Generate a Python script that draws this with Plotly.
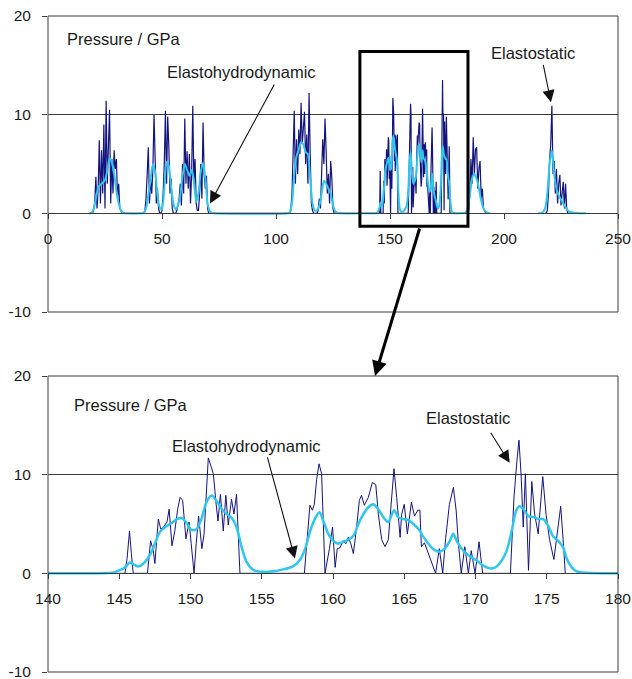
import plotly.graph_objects as go

# ---------------- DATA ----------------
# Overview panel (0-250): navy raw pressure, by contact region
r1_x = [18, 18.5, 19, 19.5, 20, 20.5, 21, 21.5, 22, 22.5, 23, 23.5, 24, 24.5, 25, 25.5,
        26, 26.5, 27, 27.5, 28, 28.5, 29, 29.5, 30, 30.5, 31, 31.5, 32, 32.5, 33]
r1_p = [0, 0, 0, 0, 0.3, 1.2, 3.7, 0.5, 2.5, 7.4, 1.0, 6.4, 2.0, 9.0, 0.5, 11.4,
        3.0, 8.5, 10.5, 1.0, 5.5, 2.0, 6.4, 4.5, 5.5, 1.5, 3.0, 0.5, 0.3, 0, 0]

r2_x = [42, 42.5, 43, 43.5, 44, 44.5, 45, 45.5, 46, 46.5, 47, 47.5, 48, 48.5, 49, 49.5,
        50, 50.5, 51, 51.5, 52, 52.5, 53, 53.5, 54, 54.5, 55, 55.5, 56, 56.5, 57, 57.5,
        58, 58.5, 59, 59.5, 60, 60.5, 61, 61.5, 62, 62.5, 63, 63.5, 64, 64.5, 65, 65.5,
        66, 66.5, 67, 67.5, 68, 68.5, 69, 69.5, 70, 70.5, 71]
r2_p = [0, 0.3, 1.5, 4.0, 6.7, 1.0, 3.5, 2.0, 4.5, 10.0, 6.0, 1.0, 2.5, 0.5, 0, 0,
        0.3, 2.0, 5.0, 10.4, 3.0, 9.8, 6.7, 2.0, 3.5, 0.5, 0, 0, 0, 0.3, 0.8, 1.5,
        3.0, 0.8, 5.0, 2.0, 9.6, 3.0, 6.3, 2.5, 6.0, 1.0, 4.0, 10.9, 3.0, 5.5, 1.0, 0.3,
        0.3, 2.0, 5.0, 1.5, 9.2, 4.0, 2.5, 3.8, 0.5, 0, 0]

r3_x = [106, 106.5, 107, 107.5, 108, 108.5, 109, 109.5, 110, 110.5, 111, 111.5, 112,
        112.5, 113, 113.5, 114, 114.5, 115, 115.5, 116, 116.5, 117, 117.5, 118, 118.5,
        119, 119.5, 120, 120.5, 121, 121.5, 122, 122.5, 123, 123.5, 124, 124.5, 125,
        125.5, 126]
r3_p = [0, 0.3, 2.0, 6.0, 10.4, 3.0, 7.5, 4.0, 8.5, 6.0, 11.2, 7.0, 9.0,
        10.3, 5.0, 8.0, 3.0, 12.2, 6.0, 1.0, 0.3, 0, 0, 0, 0, 0.3,
        1.5, 0.5, 4.0, 7.5, 5.0, 9.6, 6.2, 2.0, 4.0, 1.0, 5.3, 3.5, 0.5,
        0, 0]

r5_x = [184, 184.5, 185, 185.5, 186, 186.5, 187, 187.5, 188, 188.5, 189, 189.5, 190,
        190.5, 191, 191.5, 192, 192.5, 193]
r5_p = [0, 0.3, 2.0, 5.5, 3.0, 7.7, 4.0, 6.5, 6.7, 2.5, 4.5, 5.3, 1.5,
        2.5, 0.5, 0.2, 0, 0, 0]

r6_x = [218, 218.5, 219, 219.5, 220, 220.5, 221, 221.5, 222, 222.5, 223, 223.5, 224,
        224.5, 225, 225.5, 226, 226.5, 227, 227.5, 228, 228.5, 229]
r6_p = [0, 0, 0.3, 2.0, 5.5, 7.0, 10.9, 4.0, 5.3, 2.0, 4.5, 1.0, 3.0,
        3.9, 0.8, 2.0, 3.2, 0.5, 3.0, 0.5, 0, 0, 0]

# Overview panel: cyan smoothed pressure, by contact region
c1_x = [18, 19, 20, 21, 22, 23, 24, 25, 26, 27, 28, 29, 30, 31, 32, 33, 34]
c1_p = [0, 0.05, 0.4, 1.5, 2.6, 2.9, 3.1, 3.4, 4.3, 5.6, 5.2, 4.0, 2.3, 1.0, 0.3, 0.05, 0]

c2_x = [41, 42, 43, 44, 45, 46, 47, 48, 49, 50, 51, 52, 53, 54, 55, 56, 57, 58, 59, 60,
        61, 62, 63, 64, 65, 66, 67, 68, 69, 70, 71, 72, 73]
c2_p = [0, 0.05, 0.5, 1.8, 3.5, 5.0, 4.2, 1.8, 0.6, 0.4, 2.5, 5.2, 4.8, 2.6, 1.0, 0.4,
        0.8, 1.8, 3.8, 5.0, 4.4, 3.8, 4.4, 3.2, 1.2, 2.0, 4.2, 5.1, 3.6, 1.0, 0.2, 0.05, 0]

c3_x = [105, 106, 107, 108, 109, 110, 111, 112, 113, 114, 115, 116, 117, 118, 119, 120,
        121, 122, 123, 124, 125, 126, 127, 128]
c3_p = [0, 0.1, 1.0, 4.0, 5.8, 6.5, 7.2, 7.0, 6.2, 6.0, 3.5, 1.0, 0.3, 0.3, 0.8, 2.0,
        3.3, 3.0, 2.5, 2.0, 0.8, 0.2, 0.05, 0]

c5_x = [181, 182, 183, 184, 185, 186, 187, 188, 189, 190, 191, 192, 193, 194]
c5_p = [0.02, 0.03, 0.08, 0.4, 1.8, 3.5, 4.0, 3.5, 2.5, 1.3, 0.5, 0.15, 0.05, 0]

c6_x = [215, 216, 217, 218, 219, 220, 221, 222, 223, 224, 225, 226, 227, 228, 229, 230,
        231, 232, 233, 234, 235, 236]
c6_p = [0, 0.02, 0.1, 0.5, 2.0, 5.0, 6.4, 4.0, 2.5, 1.8, 1.4, 1.0, 0.6, 0.3, 0.15, 0.08,
        0.05, 0.03, 0.02, 0.01, 0, 0]

# Detail region (140-180): navy raw pressure
zoom_navy_x = [143.0, 145.4, 145.55, 145.72, 145.85, 145.98, 146.98, 147.2, 147.39, 147.5,
               147.74, 147.91, 148.05, 148.2, 148.35, 148.5, 148.7, 148.9, 149.1, 149.27,
               149.45, 149.68, 149.9, 150.05, 150.25, 150.4, 150.57, 150.8, 150.95, 151.05,
               151.25, 151.45, 151.6, 151.8, 151.93, 152.1, 152.3, 152.48, 152.65, 152.88,
               153.05, 153.23, 153.47, 157.99, 158.2, 158.38, 158.55, 158.69, 158.85, 159.02,
               159.2, 159.44, 159.75, 159.97, 160.15, 160.3, 160.5, 160.7, 160.9, 161.07,
               161.25, 161.43, 161.66, 161.85, 162.0, 162.2, 162.48, 162.76, 163.0, 163.18,
               163.42, 163.65, 163.88, 164.12, 164.28, 164.47, 164.71, 164.82, 165.0, 165.22,
               165.5, 165.72, 165.95, 166.1, 166.2, 166.42, 166.7, 167.0, 167.2, 167.46,
               167.7, 167.9, 168.17, 168.45, 168.64, 168.8, 169.0, 169.25, 169.5, 169.7,
               169.97, 170.25, 170.5, 172.45, 172.7, 172.9, 173.05, 173.2, 173.35, 173.5,
               173.72, 173.95, 174.15, 174.4, 174.72, 174.95, 175.2, 175.5, 175.75, 175.98,
               176.15, 176.3]
zoom_navy_p = [0, 0, 1.5, 4.3, 2.0, 0, 0, 3.3, 2.3, 1.0,
               5.5, 4.5, 4.6, 4.9, 5.2, 6.5, 2.8, 4.3, 6.5, 7.7,
               7.4, 3.5, 5.2, 3.0, 0, 3.0, 5.8, 2.5, 4.0, 6.5,
               11.7, 10.8, 10.1, 7.0, 5.3, 8.0, 4.3, 7.9, 4.9, 7.5,
               6.0, 8.0, 0, 0, 3.5, 6.9, 6.4, 7.0, 9.5, 11.1,
               10.1, 0, 2.5, 4.7, 0.6, 2.5, 2.6, 3.3, 3.0, 3.65,
               3.0, 2.0, 4.7, 7.4, 7.9, 6.9, 7.7, 9.2, 9.0, 6.0,
               3.4, 2.7, 3.4, 7.7, 10.6, 7.7, 3.65, 6.0, 7.0, 4.0,
               7.2, 5.8, 6.4, 6.4, 2.7, 3.1, 2.0, 0.7, 0, 2.5,
               0, 3.5, 7.0, 8.7, 6.4, 3.0, 0, 2.7, 0, 2.3,
               0, 3.2, 0, 0, 7.7, 11.3, 13.5, 10.0, 4.7, 10.1,
               0.3, 9.3, 6.0, 4.0, 9.8, 6.0, 3.4, 1.4, 4.3, 6.8,
               3.4, 0]

# Detail region (140-180): cyan smoothed pressure
zoom_cyan_x = [140, 143, 144, 144.6, 145.0, 145.4, 145.76, 146.0, 146.34, 146.7, 147.2,
               147.5, 147.86, 148.33, 148.68, 149.04, 149.4, 149.73, 150.08, 150.43, 150.79,
               151.14, 151.5, 151.84, 152.2, 152.55, 152.9, 153.25, 153.6, 153.95, 154.4,
               155.1, 155.8, 156.5, 157.2, 157.7, 158.05, 158.4, 158.75, 159.05, 159.3,
               159.67, 160.02, 160.37, 160.73, 161.07, 161.43, 161.78, 162.13, 162.48, 162.83,
               163.18, 163.53, 163.88, 164.28, 164.58, 164.94, 165.3, 165.64, 166.0, 166.34,
               166.7, 167.0, 167.46, 167.85, 168.2, 168.44, 168.68, 169.03, 169.38, 169.73,
               170.08, 170.43, 170.78, 171.14, 171.49, 171.84, 172.19, 172.54, 172.84, 173.08,
               173.36, 173.7, 174.06, 174.41, 174.76, 175.1, 175.46, 175.8, 176.16, 176.4,
               176.75, 177.1, 177.8, 180]
zoom_cyan_p = [0, 0, 0.03, 0.1, 0.3, 0.6, 1.1, 0.9, 0.7, 1.0, 2.0,
               3.0, 4.2, 4.8, 5.1, 5.5, 5.6, 5.1, 4.4, 4.5, 5.6,
               7.3, 7.9, 7.3, 6.5, 6.0, 5.6, 4.6, 2.6, 1.1, 0.35,
               0.15, 0.2, 0.4, 0.7, 1.4, 2.5, 4.3, 5.6, 6.2, 5.4,
               4.0, 3.3, 3.0, 3.2, 3.4, 3.8, 5.0, 6.0, 6.7, 7.0,
               6.5, 5.7, 5.2, 6.4, 5.7, 5.5, 5.4, 5.0, 4.5, 3.7,
               3.0, 2.5, 2.2, 2.5, 3.3, 4.0, 3.3, 2.5, 2.0, 1.6,
               1.3, 0.9, 0.6, 0.5, 0.7, 1.3, 2.3, 4.3, 6.3, 6.8,
               6.5, 5.8, 5.7, 5.5, 5.5, 4.8, 3.7, 3.3, 2.6, 1.5,
               0.6, 0.2, 0.05, 0]

# Axis ticks
top_xticks = [0, 50, 100, 150, 200, 250]
bottom_xticks = [140, 145, 150, 155, 160, 165, 170, 175, 180]
y_ticks = [-10, 0, 10, 20]
y_tick_text = ["-10", "0", "10", "20"]

# Labels
unit_label = "Pressure / GPa"
ehl_label = "Elastohydrodynamic"
es_label = "Elastostatic"

# ---------------- FIGURE ----------------
NAVY = "#14147e"
CYAN = "#2cc6ef"
AX = "#3c3c3c"
TXT = "#1a1a1a"
FONT = "Liberation Sans, Arial, sans-serif"

top_navy_x = r1_x + r2_x + r3_x + zoom_navy_x + r5_x + [None] + r6_x
top_navy_p = r1_p + r2_p + r3_p + zoom_navy_p + r5_p + [None] + r6_p
top_cyan_x = c1_x + c2_x + c3_x + zoom_cyan_x + c5_x + [None] + c6_x
top_cyan_p = c1_p + c2_p + c3_p + zoom_cyan_p + c5_p + [None] + c6_p

fig = go.Figure()
fig.add_trace(go.Scatter(x=top_navy_x, y=top_navy_p, xaxis="x", yaxis="y", mode="lines",
                         line=dict(color=NAVY, width=1.2), connectgaps=False, hoverinfo="skip"))
fig.add_trace(go.Scatter(x=top_cyan_x, y=top_cyan_p, xaxis="x", yaxis="y", mode="lines",
                         line=dict(color=CYAN, width=2, shape="spline", smoothing=0.6),
                         connectgaps=False, hoverinfo="skip"))
fig.add_trace(go.Scatter(x=zoom_navy_x, y=zoom_navy_p, xaxis="x2", yaxis="y2", mode="lines",
                         line=dict(color=NAVY, width=1), hoverinfo="skip"))
fig.add_trace(go.Scatter(x=zoom_cyan_x, y=zoom_cyan_p, xaxis="x2", yaxis="y2", mode="lines",
                         line=dict(color=CYAN, width=2.5, shape="spline", smoothing=0.8),
                         hoverinfo="skip"))

tickfont = dict(family=FONT, size=15.5, color=TXT)
top_dom = [360 / 656, 1.0]
bot_dom = [0.0, 296 / 656]


def xax(rng, ticks, pos):
    return dict(domain=[0, 1], range=rng, tickmode="array", tickvals=ticks, anchor="free",
                position=pos, showgrid=False, zeroline=False, showline=True, linecolor=AX,
                linewidth=1, ticks="outside", ticklen=5, tickcolor=AX, tickfont=tickfont,
                ticklabelstandoff=6, ticklabeloverflow="allow", automargin=False,
                fixedrange=True)


def yax(dom, anchor):
    return dict(domain=dom, range=[-10, 20], tickmode="array", tickvals=y_ticks,
                ticktext=y_tick_text,
                anchor=anchor, showgrid=True, gridcolor=AX, gridwidth=1, zeroline=False,
                showline=False, ticks="outside", ticklen=5, tickcolor=AX, tickfont=tickfont,
                ticklabelstandoff=8, ticklabeloverflow="allow", automargin=False,
                fixedrange=True)


fig.update_layout(
    width=632, height=679,
    margin=dict(l=48, r=14, t=16, b=7),
    paper_bgcolor="white", plot_bgcolor="white",
    showlegend=False,
    font=dict(family=FONT, color=TXT),
    xaxis=xax([0, 250], top_xticks, top_dom[0] + (top_dom[1] - top_dom[0]) / 3),
    yaxis=yax(top_dom, "x"),
    xaxis2=xax([140, 180], bottom_xticks, bot_dom[0] + (bot_dom[1] - bot_dom[0]) / 3),
    yaxis2=yax(bot_dom, "x2"),
)

shapes = [
    dict(type="rect", xref="x domain", yref="y domain", x0=0, x1=1, y0=0, y1=1,
         line=dict(color=AX, width=1), layer="above"),
    dict(type="rect", xref="x2 domain", yref="y2 domain", x0=0, x1=1, y0=0, y1=1,
         line=dict(color=AX, width=1), layer="above"),
    dict(type="rect", xref="x", yref="y", x0=136.8, x1=184.2, y0=-1.3, y1=16.4,
         line=dict(color="black", width=3), layer="above"),
]
fig.update_layout(shapes=shapes)

lab = dict(family=FONT, size=16.5, color=TXT)
ann = [
    dict(text=unit_label, xref="x", yref="y", x=7.5, y=17.7, xanchor="left",
         yanchor="middle", showarrow=False, font=lab),
    dict(text=ehl_label, xref="x", yref="y", x=84.9, y=14.3, xanchor="center",
         yanchor="middle", showarrow=False, font=lab),
    dict(text=es_label, xref="x", yref="y", x=212.7, y=16.3, xanchor="center",
         yanchor="middle", showarrow=False, font=lab),
    dict(text="", xref="x", yref="y", x=71.05, y=1.0, axref="x", ayref="y", ax=99.6, ay=13.2,
         showarrow=True, arrowhead=2, arrowsize=2.2, arrowwidth=1.1, arrowcolor="#111"),
    dict(text="", xref="x", yref="y", x=220.6, y=11.25, axref="x", ayref="y", ax=217.1, ay=15.2,
         showarrow=True, arrowhead=2, arrowsize=2.2, arrowwidth=1.1, arrowcolor="#111"),
    dict(text=unit_label, xref="x2", yref="y2", x=141.7, y=17.1, xanchor="left",
         yanchor="middle", showarrow=False, font=lab),
    dict(text=ehl_label, xref="x2", yref="y2", x=153.93, y=12.93, xanchor="center",
         yanchor="middle", showarrow=False, font=lab),
    dict(text=es_label, xref="x2", yref="y2", x=169.44, y=15.76, xanchor="center",
         yanchor="middle", showarrow=False, font=lab),
    dict(text="", xref="x2", yref="y2", x=157.33, y=1.5, axref="x2", ayref="y2", ax=155.37, ay=11.9,
         showarrow=True, arrowhead=2, arrowsize=2.2, arrowwidth=1.1, arrowcolor="#111"),
    dict(text="", xref="x2", yref="y2", x=172.4, y=11.2, axref="x2", ayref="y2", ax=171.0, ay=14.4,
         showarrow=True, arrowhead=2, arrowsize=2.2, arrowwidth=1.1, arrowcolor="#111"),
    # zoom connector arrow: from the box in the top panel to the top of the detail panel
    dict(text="", xref="x2", yref="y2", x=162.95, y=20, ax=45, ay=-149,
         showarrow=True, arrowhead=2, arrowsize=1.0, arrowwidth=3, arrowcolor="black"),
]
fig.update_layout(annotations=ann)

# remove the browser's default 8px body margin so the figure sits at the page origin
fig.write_html("out.html", config={"displayModeBar": False},
               post_script="document.body.style.margin='0px';document.body.style.overflow='hidden';")
